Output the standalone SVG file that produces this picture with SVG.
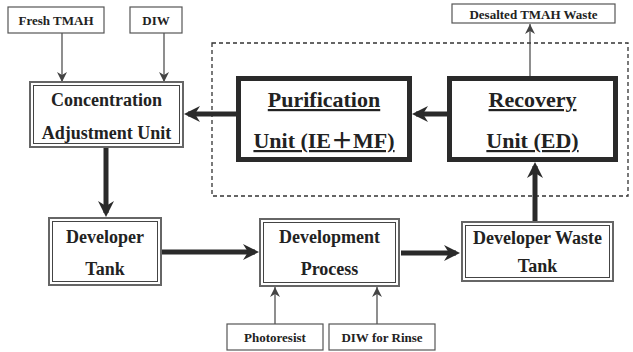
<svg xmlns="http://www.w3.org/2000/svg" width="633" height="352" viewBox="0 0 633 352" font-family="'Liberation Serif', 'Times New Roman', 'DejaVu Serif', serif">
<defs>
<style>
.bg{fill:#fff}
.small rect{fill:#fff;stroke:#555;stroke-width:1.2}
.dbl .o{fill:#fff;stroke:#666;stroke-width:2}
.dbl .i{fill:none;stroke:#444;stroke-width:1}
.thick rect{fill:#fff;stroke:#2a2a2a;stroke-width:5}
text{font-weight:bold;fill:#222;text-anchor:middle}
.st{font-size:13px}
.mt{font-size:18px}
.bt{font-size:22px;text-decoration:underline}
.thin{stroke:#444;stroke-width:1.2;fill:none}
.fat{stroke:#2a2a2a;stroke-width:5;fill:none}
.dash{fill:none;stroke:#333;stroke-width:1.3;stroke-dasharray:4 3}
</style>
<marker id="ah" markerUnits="userSpaceOnUse" viewBox="0 0 10 10" refX="10" refY="5" markerWidth="10" markerHeight="10" orient="auto">
<path d="M0,0 L10,5 L0,10 L3,5 z" fill="#444"/>
</marker>
<marker id="AH" markerUnits="userSpaceOnUse" viewBox="0 0 16 16" refX="12" refY="8" markerWidth="16" markerHeight="16" orient="auto">
<path d="M0,0 L16,8 L0,16 L5,8 z" fill="#2a2a2a"/>
</marker>
</defs>
<rect class="bg" x="0" y="0" width="633" height="352"/>

<rect class="dash" x="212" y="43" width="416" height="153"/>

<g id="connectors">
<line class="thin" x1="62" y1="33" x2="62" y2="82" marker-end="url(#ah)"/>
<line class="thin" x1="164" y1="33" x2="164" y2="82" marker-end="url(#ah)"/>
<line class="thin" x1="530" y1="76" x2="530" y2="24" marker-end="url(#ah)"/>
<line class="fat" x1="447" y1="114" x2="416" y2="114" marker-end="url(#AH)"/>
<line class="fat" x1="236" y1="114" x2="188" y2="114" marker-end="url(#AH)"/>
<line class="fat" x1="106" y1="148" x2="106" y2="213" marker-end="url(#AH)"/>
<line class="fat" x1="162" y1="252" x2="255" y2="252" marker-end="url(#AH)"/>
<line class="fat" x1="401" y1="253" x2="456" y2="253" marker-end="url(#AH)"/>
<line class="fat" x1="535" y1="222" x2="535" y2="166" marker-end="url(#AH)"/>
<line class="thin" x1="275" y1="324" x2="275" y2="287" marker-end="url(#ah)"/>
<line class="thin" x1="377" y1="324" x2="377" y2="287" marker-end="url(#ah)"/>
</g>

<g id="fresh-tmah" class="small">
<rect x="8" y="7" width="96" height="26"/>
<text class="st" x="56" y="25">Fresh TMAH</text>
</g>
<g id="diw" class="small">
<rect x="130" y="7" width="52" height="26"/>
<text class="st" x="156" y="25">DIW</text>
</g>
<g id="desalted" class="small">
<rect x="452" y="4" width="163" height="19"/>
<text class="st" x="533.5" y="19">Desalted TMAH  Waste</text>
</g>
<g id="photoresist" class="small">
<rect x="227" y="324" width="96" height="26"/>
<text class="st" x="275" y="342">Photoresist</text>
</g>
<g id="diw-rinse" class="small">
<rect x="329" y="324" width="106" height="26"/>
<text class="st" x="382" y="342">DIW for Rinse</text>
</g>

<g id="concentration" class="dbl">
<rect class="o" x="30" y="82" width="153" height="65"/>
<rect class="i" x="33.5" y="85.5" width="146" height="58"/>
<text class="mt" x="106.5" y="106">Concentration</text>
<text class="mt" x="106.5" y="139">Adjustment Unit</text>
</g>
<g id="purification" class="thick">
<rect x="238.5" y="78.5" width="171" height="81"/>
<text class="bt" x="324" y="107">Purification</text>
<text class="bt" x="324" y="148" font-family="'Liberation Serif', 'Noto Sans CJK JP', serif">Unit (IE＋MF)</text>
</g>
<g id="recovery" class="thick">
<rect x="449.5" y="78.5" width="166" height="81"/>
<text class="bt" x="532.5" y="107">Recovery</text>
<text class="bt" x="532.5" y="148">Unit (ED)</text>
</g>
<g id="developer-tank" class="dbl">
<rect class="o" x="49" y="218" width="112" height="67"/>
<rect class="i" x="52.5" y="221.5" width="105" height="60"/>
<text class="mt" x="105" y="243">Developer</text>
<text class="mt" x="105" y="275">Tank</text>
</g>
<g id="development-process" class="dbl">
<rect class="o" x="260" y="219" width="139" height="67"/>
<rect class="i" x="263.5" y="222.5" width="132" height="60"/>
<text class="mt" x="329.5" y="243">Development</text>
<text class="mt" x="329.5" y="275">Process</text>
</g>
<g id="waste-tank" class="dbl">
<rect class="o" x="462" y="222" width="151" height="59"/>
<rect class="i" x="465.5" y="225.5" width="144" height="52"/>
<text class="mt" x="537.5" y="244">Developer Waste</text>
<text class="mt" x="537.5" y="272">Tank</text>
</g>
</svg>
